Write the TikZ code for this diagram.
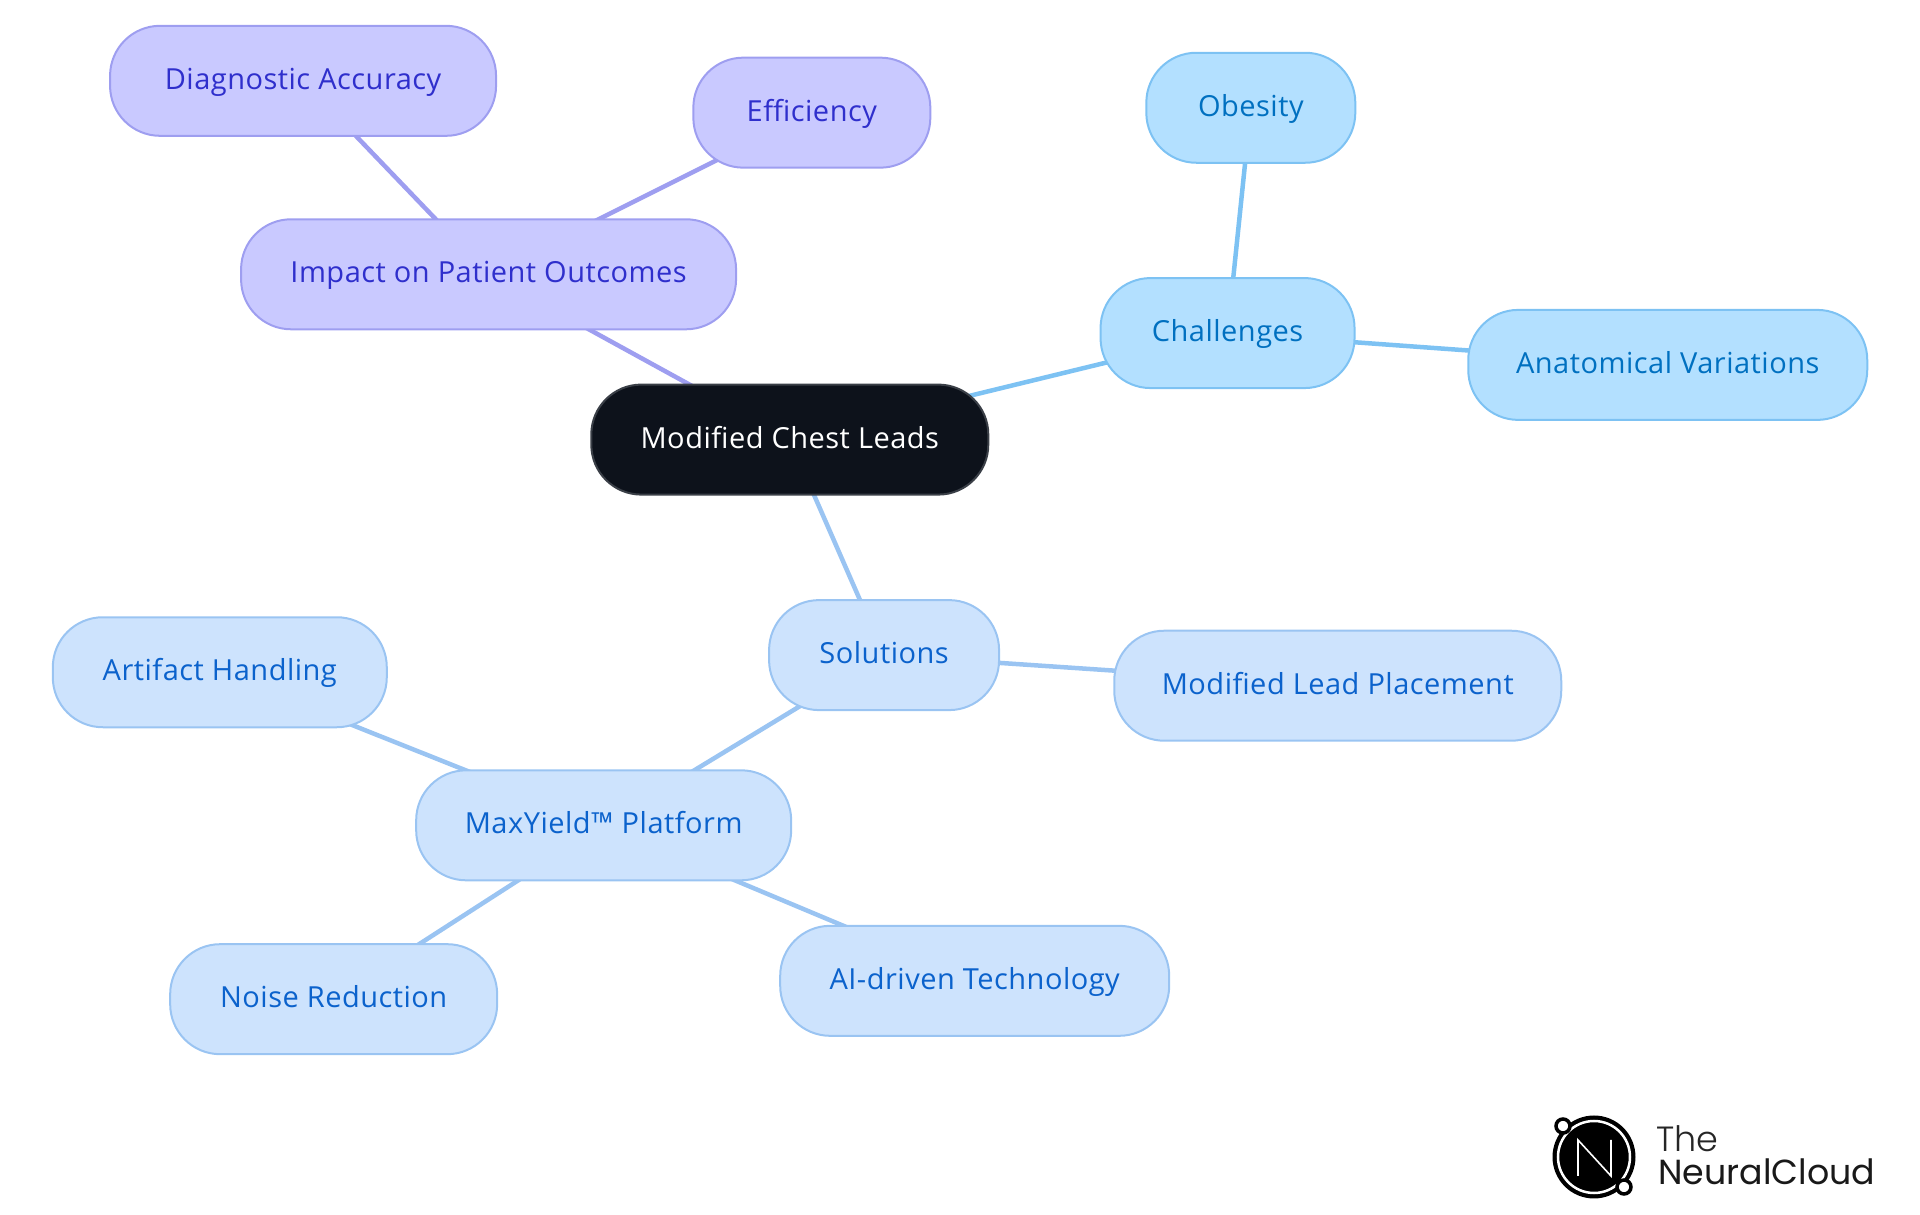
\documentclass[tikz,border=0pt]{standalone}
\usepackage{fontspec}
\setmainfont{Open Sans}[LetterSpace=1.7]
\newfontfamily\logofont{Poppins}[UprightFont=* Light]
\newfontfamily\logofontb{Poppins}
\usetikzlibrary{backgrounds}
\definecolor{pf}{HTML}{C9C9FF}\definecolor{ps}{HTML}{9E9EF0}\definecolor{pt}{HTML}{2F2FCC}
\definecolor{bf}{HTML}{B3E0FF}\definecolor{bs}{HTML}{7DC2F3}\definecolor{bt}{HTML}{0070C0}
\definecolor{lf}{HTML}{CDE3FD}\definecolor{ls}{HTML}{9AC4F2}\definecolor{lt}{HTML}{0B62CC}
\definecolor{cf}{HTML}{0D121B}\definecolor{cs}{HTML}{3A3F47}
\tikzset{
  x=1.2245pt,y=-1.2245pt,
  box/.style={rectangle,rounded corners=50pt,inner sep=0pt,outer sep=0pt,line width=2pt,
    minimum height=110pt,text height=17pt,text depth=0pt,font=\fontsize{29}{34}\selectfont},
  central/.style={box,draw=cs,fill=cf,text=white},
  purple/.style={box,draw=ps,fill=pf,text=pt},
  sky/.style={box,draw=bs,fill=bf,text=bt},
  pale/.style={box,draw=ls,fill=lf,text=lt},
  pline/.style={draw=ps,line width=4.5pt},
  bline/.style={draw=bs,line width=4.5pt},
  lline/.style={draw=ls,line width=4.5pt},
}
\begin{document}
\begin{tikzpicture}
\useasboundingbox (0,0) rectangle (1568,992.2);
\node[central,minimum width=397pt] (root) at (645,359) {Modified Chest Leads};
\node[purple,minimum width=495pt] (impact) at (399,224) {Impact on Patient Outcomes};
\node[purple,minimum width=386pt] (diag) at (247.5,66) {Diagnostic Accuracy};
\node[purple,minimum width=237pt] (eff) at (663,92) {Efficiency};
\node[sky,minimum width=254pt] (chal) at (1002.5,272) {Challenges};
\node[sky,minimum width=209pt] (obes) at (1021.5,88) {Obesity};
\node[sky,minimum width=399pt] (anat) at (1362,298) {Anatomical Variations};
\node[pale,minimum width=230pt] (sol) at (722,535) {Solutions};
\node[pale,minimum width=447pt] (mlp) at (1092.5,560) {Modified Lead Placement};
\node[pale,minimum width=375pt] (max) at (493,674) {MaxYield™ Platform};
\node[pale,minimum width=334pt] (art) at (179.5,549) {Artifact Handling};
\node[pale,minimum width=327pt] (noise) at (272.5,816) {Noise Reduction};
\node[pale,minimum width=389pt] (ai) at (796,801) {AI-driven Technology};
\begin{scope}[on background layer]
\draw[pline] (root.center)--(impact.center);
\draw[pline] (impact.center)--(diag.center);
\draw[pline] (impact.center)--(eff.center);
\draw[bline] (root.center)--(chal.center);
\draw[bline] (chal.center)--(obes.center);
\draw[bline] (chal.center)--(anat.center);
\draw[lline] (root.center)--(sol.center);
\draw[lline] (sol.center)--(mlp.center);
\draw[lline] (sol.center)--(max.center);
\draw[lline] (max.center)--(art.center);
\draw[lline] (max.center)--(noise.center);
\draw[lline] (max.center)--(ai.center);
\end{scope}
\begin{scope}[x=1pt,y=-1pt]
\fill[black] (1594,1157) circle (41.5pt);
\draw[white,line width=2.5pt] (1594,1157) circle (36pt);
\draw[white,line width=1.6pt,line join=miter] (1578,1176)--(1578,1140)--(1611,1176)--(1611,1140);
\draw[black,fill=white,line width=3.5pt] (1563,1126) circle (7pt);
\draw[black,fill=white,line width=3.5pt] (1624,1187) circle (7pt);
\node[anchor=base west,inner sep=0pt,text=black!85,font=\logofont\fontsize{35}{36}\selectfont] (the) at (1656,1152) {The};
\node[anchor=base west,inner sep=0pt,text=black!90,font=\logofontb\fontsize{34.8}{36}\selectfont] (nc) at (1658,1185) {NeuralCloud};
\end{scope}
\end{tikzpicture}
\end{document}
